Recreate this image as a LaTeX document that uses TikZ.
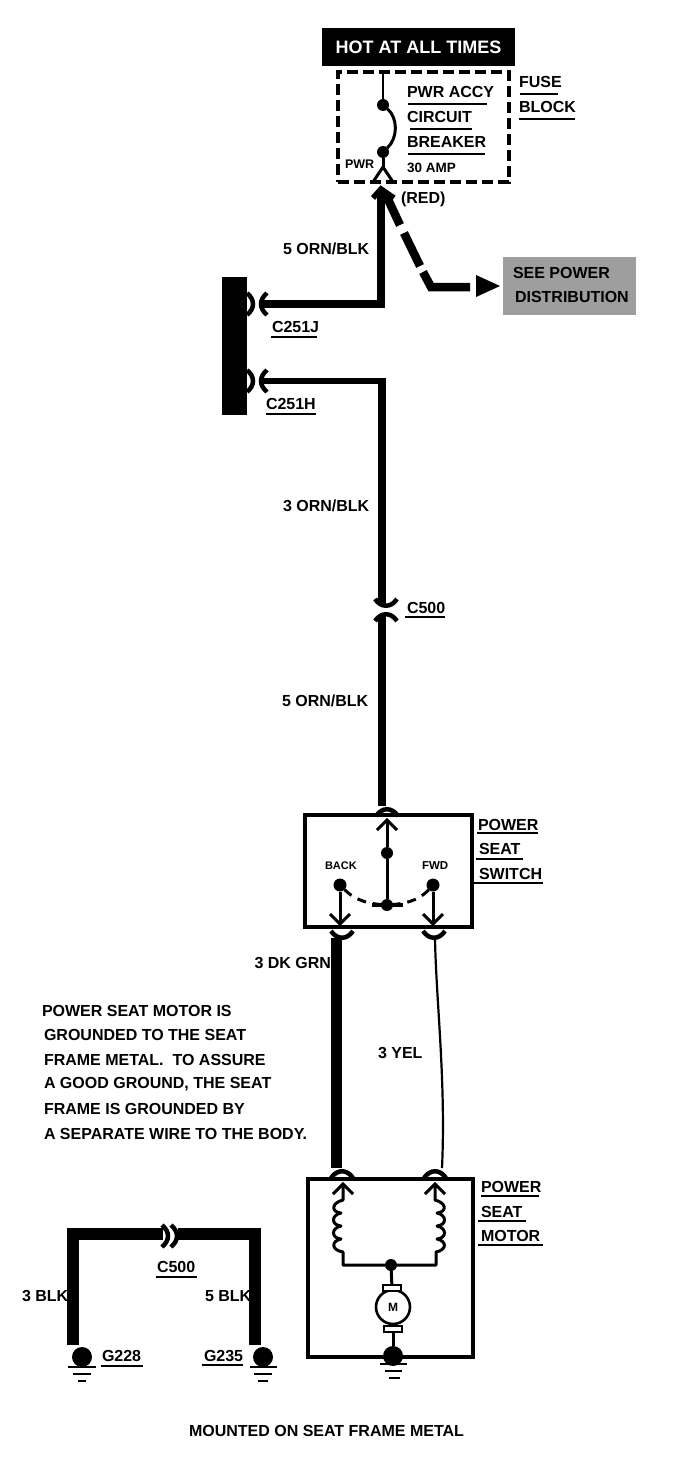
\documentclass[tikz,border=0pt]{standalone}
\usepackage{fontspec}
\setmainfont{Liberation Sans}
\usetikzlibrary{calc}
\tikzset{
 x=1pt,y=-1pt,
 every node/.style={inner sep=0pt,outer sep=0pt},
 lab/.style={anchor=west,font=\fontsize{16}{16}\selectfont\bfseries},
 small/.style={anchor=west,font=\fontsize{12}{12}\selectfont\bfseries},
 para/.style={anchor=west,font=\fontsize{16}{16}\selectfont\bfseries},
 ul/.style={line width=2.4pt},
 heavy/.style={line width=8.5pt},
 dotn/.style={circle,fill=black,minimum size=#1},
 box/.style={draw,line width=4.5pt},
 pics/chevup/.style={code={\draw[line width=3pt] (-10,10)--(0,0)--(10,10);}},
 pics/chevdn/.style={code={\draw[line width=3pt] (-10,-10)--(0,0)--(10,-10);}},
 pics/capn/.style={code={\draw[line width=4.5pt] (-11,6) .. controls (-5,-3) and (5,-3) .. (11,6);}},
 pics/cupn/.style={code={\draw[line width=4.5pt] (-11,-6) .. controls (-5,3) and (5,3) .. (11,-6);}},
 pics/rcurve/.style={code={\draw[line width=4.5pt] (-4,-11) .. controls (4,-4) and (4,4) .. (-4,11);}},
 pics/lcurve/.style={code={\draw[line width=4.5pt] (4,-11) .. controls (-4,-4) and (-4,4) .. (4,11);}},
}
\begin{document}
\begin{tikzpicture}
\useasboundingbox (0,0) rectangle (672,1466);
% top
\node[fill=black,text=white,minimum width=193pt,minimum height=38pt,font=\fontsize{18}{18}\selectfont\bfseries] (hot) at (418.5,47) {HOT AT ALL TIMES};
\node[draw,line width=4pt,dash pattern=on 11pt off 5pt,minimum width=171pt,minimum height=110pt] (fuse) at (423.5,127) {};
\coordinate (ftop) at (383,73);
\node[dotn=12pt] (d1) at (383,105) {};
\node[dotn=12pt] (d2) at (383,152) {};
\coordinate (fork) at (383,167);
\draw[line width=2.6pt] (ftop)--(d1);
\draw[line width=3pt] (d1) .. controls (398,118) and (398,138) .. (d2);
\draw[line width=3pt] (d2)--(fork);
\draw[line width=3pt] (373,182)--(fork)--(393,182);
\node[small,font=\fontsize{12.5}{12.5}\selectfont\bfseries] (pwr) at (345,164) {PWR};
\node[lab] (l1) at (407,92) {PWR ACCY};
\draw[ul] (408,104)--(487,104);
\node[lab] (l2) at (407,117) {CIRCUIT};
\draw[ul] (410,129)--(472,129);
\node[lab] (l3) at (407,142) {BREAKER};
\draw[ul] (408,154)--(485,154);
\node[small,font=\fontsize{13.5}{13.5}\selectfont\bfseries] (l4) at (407,168) {30 AMP};
\node[lab] (fb1) at (519,82) {FUSE};
\draw[ul] (520,94)--(558,94);
\node[lab] (fb2) at (519,107) {BLOCK};
\draw[ul] (519,119)--(575,119);
\node[lab] (red) at (401,199) {(RED)};
% feed
\coordinate (apex) at (381,189);
\coordinate (corner1) at (381,304);
\coordinate (j) at (260,304);
\draw[heavy,line join=miter] (apex)--(corner1)--(j);
\draw[line width=5.5pt] (373,198)--(apex)--(394,198);
\pic at (263,304) {lcurve};
\pic at (251,304) {rcurve};
\node[lab] at (283,249) {5 ORN/BLK};
\node[fill=black,minimum width=25pt,minimum height=138pt] (bar) at (234.5,346) {};
\node[lab] at (272,327) {C251J};
\draw[ul] (271,337)--(317,337);
% dashed branch
\coordinate (b0) at (385,193);
\coordinate (b1) at (400,225);
\coordinate (b2) at (404,233);
\coordinate (b3) at (420,266);
\coordinate (b4) at (423,272);
\coordinate (b5) at (431,287);
\coordinate (b6) at (470,287);
\draw[line width=8.5pt] (b0)--(b1);
\draw[line width=8.5pt] (b2)--(b3);
\draw[line width=8.5pt] (b4)--(b5)--(b6);
\fill (476,275)--(500,286)--(476,297)--cycle;
\node[fill=black!38,minimum width=133pt,minimum height=58pt] (see) at (569.5,286) {};
\node[lab] at (513,273) {SEE POWER};
\node[lab] at (515,297) {DISTRIBUTION};
% middle
\coordinate (h) at (261,381);
\coordinate (corner2) at (382,381);
\coordinate (c500a) at (382,604);
\coordinate (c500b) at (382,615);
\coordinate (swin) at (382,806);
\draw[line width=6pt] (h)--(386,381);
\draw[heavy] (corner2)++(0,-3)--(c500a);
\pic at (263,381) {lcurve};
\pic at (251,381) {rcurve};
\node[lab] at (266,404) {C251H};
\draw[ul] (266,414)--(316,414);
\node[lab] at (283,506) {3 ORN/BLK};
\pic at (386,605) {cupn};
\pic at (386,615) {capn};
\node[lab] at (407,608) {C500};
\draw[ul] (405,617)--(445,617);
\draw[heavy] (c500b)--(swin);
\node[lab] at (282,701) {5 ORN/BLK};
\pic at (387,810) {capn};
% switch
\node[box,minimum width=167pt,minimum height=112pt] (sw) at (388.5,871) {};
\node[lab] at (478,825) {POWER};
\draw[ul] (477,833)--(538,833);
\node[lab] at (479,849) {SEAT};
\draw[ul] (476,859)--(523,859);
\node[lab] at (479,874) {SWITCH};
\draw[ul] (473,883)--(543,883);
\node[dotn=12pt] (sd) at (387,853) {};
\node[dotn=12pt] (sc) at (387,905) {};
\node[dotn=13pt] (back) at (340,885) {};
\node[dotn=13pt] (fwd) at (433,885) {};
\node[small,font=\fontsize{11}{11}\selectfont\bfseries] at (325,866) {BACK};
\node[small,font=\fontsize{11.5}{11.5}\selectfont\bfseries] at (422,866) {FWD};
\coordinate (swa) at (387,820);
\coordinate (swb) at (340,924);
\coordinate (swf) at (433,924);
\draw[line width=3pt] (swa)--(sd)--(sc);
\draw[line width=3pt] (back)--(swb);
\draw[line width=3pt] (fwd)--(swf);
\pic at (swa) {chevup};
\pic at (swb) {chevdn};
\pic at (swf) {chevdn};
\draw[line width=3.5pt] (372,905)--(403,905);
\draw[line width=3pt,dash pattern=on 9pt off 7pt] (back) .. controls (352,897) and (362,903) .. (sc);
\draw[line width=3pt,dash pattern=on 9pt off 7pt] (fwd) .. controls (422,897) and (412,903) .. (sc);
% to motor
\pic at (342,937) {cupn};
\pic at (434,937) {cupn};
\coordinate (gn1) at (336,938);
\coordinate (gn2) at (336,1168);
\draw[line width=11pt] (gn1)--(gn2);
\coordinate (ye1) at (435,938);
\coordinate (ye2) at (442,1168);
\draw[line width=2.2pt] (ye1) .. controls (436,1000) and (446,1080) .. (ye2);
\node[lab,anchor=east] at (331,963) {3 DK GRN};
\node[lab] at (378,1053) {3 YEL};
% note
\node[para] at (42,1011) {POWER SEAT MOTOR IS};
\node[para] at (44,1035) {GROUNDED TO THE SEAT};
\node[para] at (44,1060) {FRAME METAL.\ \ TO ASSURE};
\node[para] at (44,1084) {A GOOD GROUND, THE SEAT};
\node[para] at (44,1109) {FRAME IS GROUNDED BY};
\node[para] at (44,1134) {A SEPARATE WIRE TO THE BODY.};
% motor
\pic at (342,1172) {capn};
\pic at (435,1172) {capn};
\node[box,minimum width=165pt,minimum height=178pt] (mot) at (390.5,1268) {};
\node[lab] at (481,1187) {POWER};
\draw[ul] (481,1196)--(539,1196);
\node[lab] at (481,1212) {SEAT};
\draw[ul] (478,1221)--(526,1221);
\node[lab] at (481,1236) {MOTOR};
\draw[ul] (478,1245)--(543,1245);
\coordinate (ma) at (343,1184);
\coordinate (mb) at (435,1184);
\pic at (ma) {chevup};
\pic at (mb) {chevup};
\node[dotn=12pt] (md) at (391,1265) {};
\draw[line width=3pt,line join=round]
 (ma)--(343,1200) .. controls (331,1203) and (331,1212) .. (341,1213)
 .. controls (331,1215) and (331,1225) .. (341,1226)
 .. controls (331,1228) and (331,1238) .. (341,1239)
 .. controls (331,1241) and (331,1250) .. (343,1252) -- (343,1265) -- (md);
\draw[line width=3pt,line join=round]
 (mb)--(435,1200) .. controls (447,1203) and (447,1212) .. (437,1213)
 .. controls (447,1215) and (447,1225) .. (437,1226)
 .. controls (447,1228) and (447,1238) .. (437,1239)
 .. controls (447,1241) and (447,1250) .. (436,1252) -- (436,1265) -- (md);
\node[draw,circle,line width=2.6pt,minimum size=34pt,font=\fontsize{12}{12}\selectfont\bfseries] (m) at (393,1307) {M};
\node[draw,line width=2.6pt,fill=white,minimum width=18pt,minimum height=6pt] (br1) at (392,1288) {};
\node[draw,line width=2.6pt,fill=white,minimum width=18pt,minimum height=6pt] (br2) at (393,1329) {};
\node[dotn=20pt] (gm) at (393,1356) {};
\draw[line width=3pt] (md)--(br1);
\draw[line width=3pt] (br2)--(gm);
\draw[line width=2.8pt] (380,1364)--(407,1364);
\draw[line width=2.8pt] (385,1371)--(402,1371);
\draw[line width=2.8pt] (389,1378)--(400,1378);
% grounds left
\coordinate (w1) at (73,1345);
\coordinate (w1c) at (73,1234);
\coordinate (w1e) at (163,1234);
\coordinate (w2) at (255,1345);
\coordinate (w2c) at (255,1234);
\coordinate (w2s) at (178,1234);
\draw[line width=12pt,line join=miter] (w1)--(w1c)--(w1e);
\draw[line width=12pt,line join=miter] (w2)--(w2c)--(w2s);
\pic at (166,1236) {rcurve};
\pic at (175,1236) {rcurve};
\node[lab] at (22,1296) {3 BLK};
\node[lab] at (205,1296) {5 BLK};
\node[lab] at (157,1267) {C500};
\draw[ul] (156,1277)--(197,1277);
\node[dotn=20pt] (g1) at (82,1357) {};
\node[dotn=20pt] (g2) at (263,1357) {};
\draw[line width=2.8pt] (68,1367)--(96,1367);
\draw[line width=2.8pt] (73,1374)--(91,1374);
\draw[line width=2.8pt] (78,1381)--(86,1381);
\draw[line width=2.8pt] (250,1367)--(277,1367);
\draw[line width=2.8pt] (254,1374)--(272,1374);
\draw[line width=2.8pt] (258,1381)--(268,1381);
\node[lab] at (102,1356) {G228};
\draw[ul] (101,1366)--(143,1366);
\node[lab] at (204,1356) {G235};
\draw[ul] (202,1365)--(243,1365);
\node[para] at (189,1431) {MOUNTED ON SEAT FRAME METAL};
\end{tikzpicture}
\end{document}
